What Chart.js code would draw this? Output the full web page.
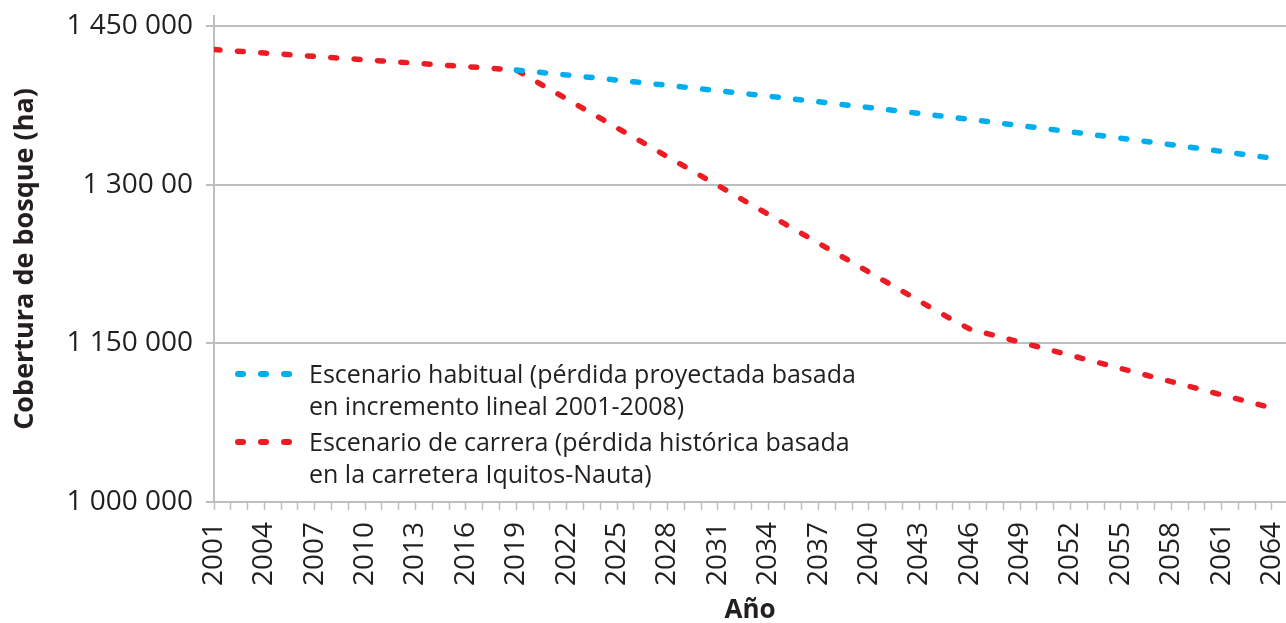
<!DOCTYPE html>
<html>
<head>
<meta charset="utf-8">
<script src="https://cdn.jsdelivr.net/npm/chart.js@4.4.1/dist/chart.umd.min.js"></script>
<style>
html, body { margin: 0; padding: 0; background: #ffffff; }
#wrap { position: relative; width: 1286px; height: 623px; overflow: hidden; }
#legend { position: absolute; left: 233px; top: 357px; font-family: 'Open Sans', sans-serif; font-size: 25px; line-height: 32px; color: #231F20; }
.item { display: flex; align-items: flex-start; margin-bottom: 4px; white-space: nowrap; }
.sym { width: 76px; height: 32px; position: relative; flex: none; }
.sym span { position: absolute; top: 14px; width: 11px; height: 6px; border-radius: 3px; }
</style>
</head>
<body>
<div id="wrap">
  <canvas id="chart" width="1286" height="623"></canvas>
  <div id="legend"></div>
</div>
<script>
// ---- Data ----
const years = [2001,2002,2003,2004,2005,2006,2007,2008,2009,2010,2011,2012,2013,2014,2015,2016,
  2017,2018,2019,2020,2021,2022,2023,2024,2025,2026,2027,2028,2029,2030,2031,2032,2033,2034,2035,
  2036,2037,2038,2039,2040,2041,2042,2043,2044,2045,2046,2047,2048,2049,2050,2051,2052,2053,2054,
  2055,2056,2057,2058,2059,2060,2061,2062,2063,2064];

const xTickLabels = [2001,2004,2007,2010,2013,2016,2019,2022,2025,2028,2031,2034,2037,2040,2043,
  2046,2049,2052,2055,2058,2061,2064];

const yTickValues = [1000000, 1150000, 1300000, 1450000];
const yTickLabels = ['1 000 000', '1 150 000', '1 300 00', '1 450 000'];

const seriesNames = [
  ['Escenario habitual (pérdida proyectada basada', 'en incremento lineal 2001-2008)'],
  ['Escenario de carrera (pérdida histórica basada', 'en la carretera Iquitos-Nauta)']
];

// Escenario habitual (starts 2019)
const habitual = [null,null,null,null,null,null,null,null,null,null,null,null,null,null,null,null,null,null,
  1408400,1406850,1405300,1403700,1402100,1400500,1398900,1397250,1395600,1393950,
  1392250,1390600,1388850,1387150,1385400,1383700,1381900,1380150,1378400,1376600,
  1374750,1372950,1371100,1369250,1367400,1365500,1363600,1361700,1359800,1357850,
  1355900,1353950,1352000,1350000,1348000,1346000,1343950,1341900,1339850,1337800,
  1335700,1333600,1331500,1329350,1327200,1325100];

// Escenario de carrera
const carrera = [1427800,1426700,1425600,1424500,1423500,1422400,1421300,1420200,1419200,1418100,
  1417000,1415900,1414900,1413800,1412700,1411600,1410600,1409500,1408400,
  1399300,1390200,1381100,1372000,1362900,1353800,1344700,1335600,1326500,1317500,
  1308400,1299300,1290200,1281100,1272000,1262900,1253800,1244700,1235600,1226500,
  1217400,1208300,1199200,1190100,1181000,1172000,1163600,
  1159400,1155300,1151100,1147000,1142800,1138700,1134500,1130400,1126200,1122100,
  1117900,1113800,1109600,1105500,1101300,1097200,1093000,1088900];

// ---- Styles ----
const COLORS = ['#00AEEF', '#ED1C24'];
const GRID = '#BCBEC0';
const TEXT = '#231F20';
const FONT = "'Open Sans', sans-serif";

const toPoints = vals => years.map((y, i) => ({ x: y, y: vals[i] }));

const chart = new Chart(document.getElementById('chart'), {
  type: 'line',
  data: {
    datasets: [
      { label: seriesNames[0].join(' '), data: toPoints(habitual), borderColor: COLORS[0] },
      { label: seriesNames[1].join(' '), data: toPoints(carrera), borderColor: COLORS[1] }
    ].map(d => Object.assign(d, {
      borderWidth: 5.5, borderDash: [6, 17.4], borderCapStyle: 'round', borderJoinStyle: 'round',
      pointRadius: 0, pointHoverRadius: 0, tension: 0, fill: false, spanGaps: false
    }))
  },
  options: {
    responsive: false,
    animation: false,
    events: [],
    layout: { padding: { top: 16, right: 0, bottom: 0, left: 0 } },
    plugins: { legend: { display: false }, tooltip: { enabled: false } },
    scales: {
      x: {
        type: 'linear',
        min: 2001,
        max: 2064.834,
        afterBuildTicks: s => { s.ticks = years.map(v => ({ value: v })); },
        afterFit: s => { s.height = 121; s.paddingLeft = 0; s.paddingRight = 0; },
        ticks: {
          autoSkip: false, maxRotation: 90, minRotation: 90, padding: 12,
          color: TEXT, font: { family: FONT, size: 28 },
          callback: v => xTickLabels.includes(Math.round(v)) ? String(Math.round(v)) : ''
        },
        grid: { drawOnChartArea: false, drawTicks: true, tickLength: 8, tickColor: GRID, tickWidth: 1.5 },
        border: { display: true, color: GRID, width: 2 },
        title: { display: true, text: 'Año', color: TEXT, font: { family: FONT, size: 26, weight: 'bold' }, padding: { top: 0, bottom: -3 } }
      },
      y: {
        type: 'linear',
        min: 1000000,
        max: 1459500,
        afterBuildTicks: s => { s.ticks = yTickValues.map(v => ({ value: v })); },
        afterFit: s => { s.width = 214; s.paddingTop = 0; s.paddingBottom = 0; },
        ticks: {
          padding: 13, color: TEXT, font: { family: FONT, size: 28 },
          callback: v => { const i = yTickValues.indexOf(v); return i >= 0 ? yTickLabels[i] : ''; }
        },
        grid: { drawOnChartArea: true, drawTicks: true, tickLength: 8, color: GRID, lineWidth: 2, tickColor: GRID },
        border: { display: true, color: GRID, width: 2 },
        title: { display: true, text: 'Cobertura de bosque (ha)', color: TEXT, font: { family: FONT, size: 27, weight: 'bold' }, padding: { top: 9, bottom: 0 } }
      }
    }
  }
});

// ---- HTML legend (real text) ----
const legend = document.getElementById('legend');
chart.data.datasets.forEach((ds, i) => {
  const item = document.createElement('div');
  item.className = 'item';
  const sym = document.createElement('div');
  sym.className = 'sym';
  [2, 25, 48].forEach(l => {
    const s = document.createElement('span');
    s.style.left = l + 'px';
    s.style.background = ds.borderColor;
    sym.appendChild(s);
  });
  const txt = document.createElement('div');
  seriesNames[i].forEach(line => {
    const d = document.createElement('div');
    d.textContent = line;
    txt.appendChild(d);
  });
  item.appendChild(sym);
  item.appendChild(txt);
  legend.appendChild(item);
});
</script>
</body>
</html>
